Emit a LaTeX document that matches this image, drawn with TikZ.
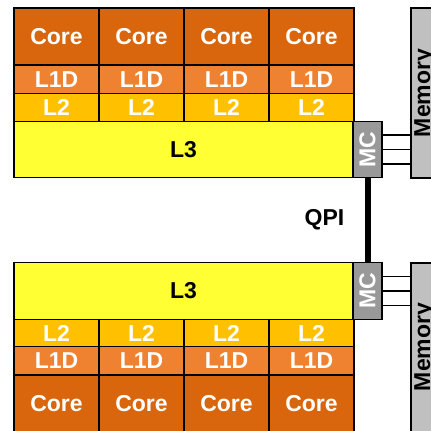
\documentclass[tikz,border=0pt]{standalone}
\usepackage{fontspec}
\setmainfont{Liberation Sans}
\definecolor{corec}{RGB}{217,101,12}
\definecolor{lonec}{RGB}{239,130,49}
\definecolor{ltwoc}{RGB}{255,192,0}
\definecolor{lthreec}{RGB}{255,255,51}
\definecolor{mcc}{RGB}{153,153,153}
\definecolor{memc}{RGB}{192,192,192}
\tikzset{
  cell/.style={draw=black, line width=1.3pt, inner sep=0pt, minimum width=85pt,
    font=\fontsize{23}{24}\selectfont\bfseries, text=white},
  corebox/.style={cell, fill=corec, minimum height=57pt},
  lonebox/.style={cell, fill=lonec, minimum height=28.5pt},
  ltwobox/.style={cell, fill=ltwoc, minimum height=27.5pt},
  lthreebox/.style={cell, fill=lthreec, text=black, minimum width=339pt, minimum height=56.5pt},
  mcbox/.style={cell, fill=mcc, minimum width=29pt, minimum height=56.5pt},
  membox/.style={draw=black, line width=1.3pt, fill=memc, inner sep=0pt, minimum width=22pt, minimum height=170pt},
  memtext/.style={rotate=90, anchor=base, font=\fontsize{23}{24}\selectfont\bfseries, inner sep=0pt},
  link/.style={draw=black, line width=1.3pt},
  qpi/.style={draw=black, line width=6pt},
}
\begin{document}
\begin{tikzpicture}[x=1pt, y=-1pt]
\clip (0,0) rectangle (431,431);
% top processor
\foreach \i/\x in {1/56.5, 2/141.5, 3/226.5, 4/311.5} {
  \node[corebox] (coreT\i) at (\x,36.5) {Core};
  \node[lonebox] (l1T\i) at (\x,79.5) {L1D};
  \node[ltwobox] (l2T\i) at (\x,107.5) {L2};
}
\node[lthreebox] (l3T) at (183.5,149.5) {L3};
\node[mcbox] (mcT) at (367.5,149.5) {\rotatebox{90}{MC}};
\node[membox] (memT) at (422,93) {};
\node[memtext] (memtT) at (430,93) {Memory};
% bottom processor
\node[lthreebox] (l3B) at (183.5,291) {L3};
\foreach \i/\x in {1/56.5, 2/141.5, 3/226.5, 4/311.5} {
  \node[ltwobox] (l2B\i) at (\x,333) {L2};
  \node[lonebox] (l1B\i) at (\x,361) {L1D};
  \node[corebox] (coreB\i) at (\x,403.5) {Core};
}
\node[mcbox] (mcB) at (367.5,291) {\rotatebox{90}{MC}};
\node[membox] (memB) at (422,348) {};
\node[memtext] (memtB) at (430,347) {Memory};
% memory links
\foreach \d/\n in {14.5/a, 0/b, -14.5/c} {
  \coordinate (tl\n) at ([yshift=\d pt]mcT.east);
  \draw[link] (tl\n) -- (tl\n -| memT.west);
  \coordinate (bl\n) at ([yshift=\d pt]mcB.east);
  \draw[link] (bl\n) -- (bl\n -| memB.west);
}
% QPI
\draw[qpi] (mcT.south) -- (mcB.north);
\node[font=\fontsize{23}{24}\selectfont\bfseries, inner sep=0pt] (qpil) at (324.5,220) {QPI};
\end{tikzpicture}
\end{document}
